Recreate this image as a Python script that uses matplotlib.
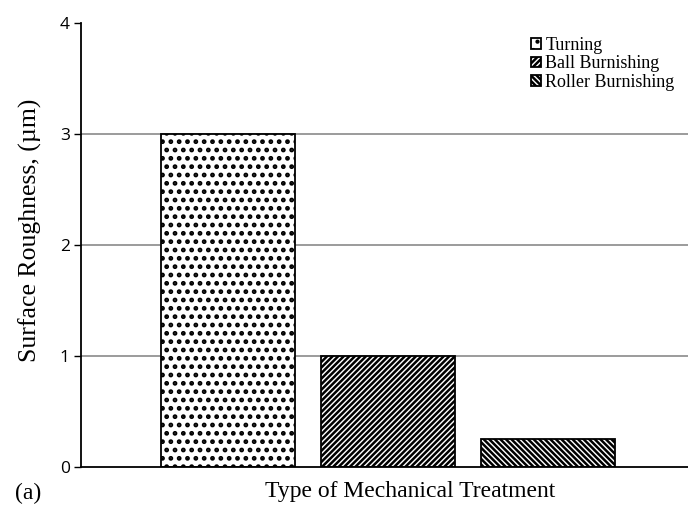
import matplotlib.pyplot as plt
import numpy as np

treatments = ['Turning', 'Ball Burnishing', 'Roller Burnishing']
roughness = [3.0, 1.0, 0.25]
hatches = ['..', '//////', '\\\\\\\\\\\\']
hatch_widths = [2.2, 1.8, 1.8]
y_ticks = [0, 1, 2, 3, 4]

plt.rcParams['font.family'] = ['Liberation Serif', 'DejaVu Serif']
plt.rcParams['hatch.linewidth'] = 1.8

fig = plt.figure(figsize=(6.88, 5.05), dpi=100)
# axes run a little past the right edge of the figure
ax = fig.add_axes([81 / 688, 1 - 467 / 505, (729 - 81) / 688, 444 / 505])

x = np.arange(len(treatments))
for i in range(len(treatments)):
    with plt.rc_context({'hatch.linewidth': hatch_widths[i]}):
        ax.bar(x[i], roughness[i], width=0.84, color='white', edgecolor='black',
               linewidth=1.3, hatch=hatches[i], label=treatments[i], zorder=2)

ax.set_ylim(0, 4)
ax.set_xlim(-0.92, 3.13)
ax.set_yticks(y_ticks)
ax.set_yticklabels([str(t) for t in y_ticks], family=['Open Sans', 'DejaVu Sans'], fontsize=12.5)
ax.set_xticks([])
for t in [1, 2, 3]:
    ax.axhline(t, color='#808080', linewidth=1.1, zorder=1)

for s in ['top', 'right']:
    ax.spines[s].set_visible(False)
ax.spines['left'].set_linewidth(1.3)
ax.spines['bottom'].set_linewidth(1.3)
ax.tick_params(axis='y', direction='out', length=5, width=1, pad=3)

fig.text(30 / 688, 1 - 230 / 505, 'Surface Roughness, (µm)', fontsize=18.5, rotation=90,
         ha='center', va='center')
fig.text(410 / 688, 1 - 492 / 505, 'Type of Mechanical Treatment', fontsize=17,
         ha='center', va='center')
fig.text(28 / 688, 1 - 493 / 505, '(a)', fontsize=17, ha='center', va='center')

leg = fig.legend(loc='upper left', bbox_to_anchor=(531 / 688, 1 - 37 / 505), frameon=False,
                 fontsize=13, handlelength=0.55, handleheight=0.55, handletextpad=0.25,
                 labelspacing=0.08, borderaxespad=0, borderpad=0)

fig.savefig('out.png', dpi=100)
